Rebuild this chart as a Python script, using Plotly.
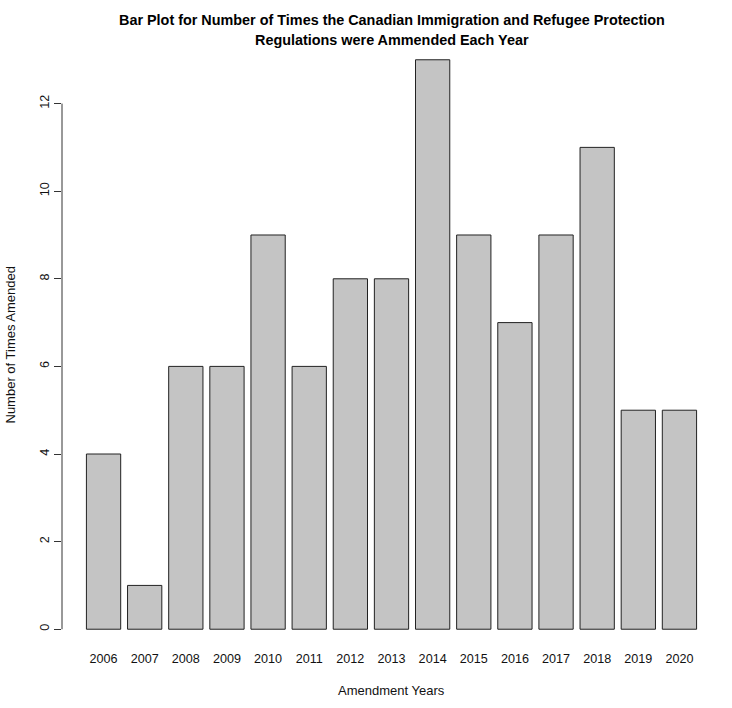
import plotly.graph_objects as go

years = ["2006", "2007", "2008", "2009", "2010", "2011", "2012", "2013",
         "2014", "2015", "2016", "2017", "2018", "2019", "2020"]
counts = [4, 1, 6, 6, 9, 6, 8, 8, 13, 9, 7, 9, 11, 5, 5]
y_ticks = [0, 2, 4, 6, 8, 10, 12]

# R barplot-style positions: width 1, space 0.2
space = 0.2
centers = [space + 0.5 + i * (1 + space) for i in range(len(years))]
x_lo, x_hi = space, centers[-1] + 0.5
xpad = 0.04 * (x_hi - x_lo)
ymax = max(counts)
ypad = 0.04 * ymax

fig = go.Figure(go.Bar(
    x=centers, y=counts, width=1,
    marker=dict(color="#C4C4C4", line=dict(color="#222222", width=1)),
))

font = "Liberation Sans, Arial, Helvetica, sans-serif"
fig.update_layout(
    width=732, height=708,
    margin=dict(l=62, r=11, t=37, b=56),
    plot_bgcolor="white", paper_bgcolor="white",
    showlegend=False,
    font=dict(family=font, color="#111111", size=13),
    xaxis=dict(
        range=[x_lo - xpad, x_hi + xpad],
        tickvals=centers, ticktext=years,
        showline=False, showgrid=False, zeroline=False,
        ticks="", ticklabelstandoff=-3, automargin=False,
        tickfont=dict(size=12.6, color="#111111"),
    ),
    yaxis=dict(
        range=[-ypad, ymax + ypad],
        tickvals=y_ticks, ticktext=[str(v) for v in y_ticks],
        tickangle=-90, automargin=False,
        showline=False, showgrid=False, zeroline=False,
        ticks="outside", ticklen=7, tickcolor="#333333", tickwidth=1,
        tickfont=dict(size=12.6, color="#111111"),
    ),
    shapes=[dict(type="line", xref="paper", yref="y", x0=0, x1=0,
                 y0=y_ticks[0], y1=y_ticks[-1],
                 line=dict(color="#333333", width=1))],
    annotations=[
        dict(text="<b>Bar Plot for Number of Times the Canadian Immigration and Refugee Protection</b>",
             xref="paper", yref="paper", x=0.5, y=1, xanchor="center", yanchor="middle",
             yshift=17, showarrow=False, font=dict(size=14.4, color="#000000")),
        dict(text="<b>Regulations were Ammended Each Year</b>",
             xref="paper", yref="paper", x=0.5, y=1, xanchor="center", yanchor="middle",
             yshift=-3, showarrow=False, font=dict(size=14.4, color="#000000")),
        dict(text="Amendment Years", xref="paper", yref="paper", x=0.5, y=0,
             xanchor="center", yanchor="middle", yshift=-38, showarrow=False,
             font=dict(size=13)),
        dict(text="Number of Times Amended", xref="paper", yref="paper", x=0, y=0.5,
             xanchor="center", yanchor="middle", xshift=-52, textangle=-90,
             showarrow=False, font=dict(size=13)),
    ],
)

fig.write_html("out.html",
               config={"displayModeBar": False},
               post_script="document.body.style.margin='0';document.body.style.overflow='hidden';")
